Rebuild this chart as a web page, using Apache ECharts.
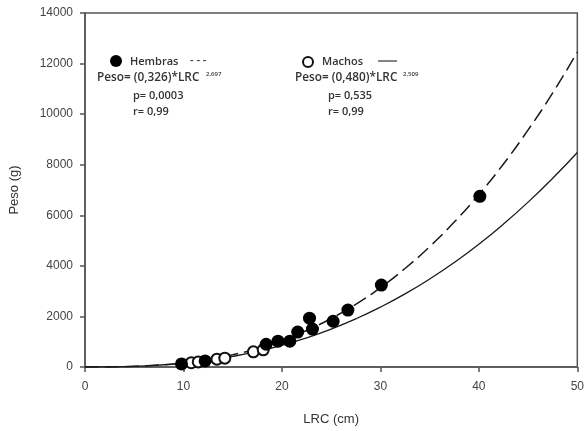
<!DOCTYPE html>
<html><head><meta charset="utf-8">
<script src="https://cdn.jsdelivr.net/npm/echarts@6/dist/echarts.min.js"></script>
<style>html,body{margin:0;padding:0;background:#fff}#c{width:587px;height:431px}</style>
</head><body><div id="c"></div>
<script>
// Observed data
var hembrasX = [9.8, 12.2, 18.4, 19.6, 20.8, 21.6, 22.8, 23.1, 25.2, 26.7, 30.1, 40.1];
var hembrasY = [120, 240, 900, 1020, 1020, 1380, 1930, 1500, 1810, 2250, 3240, 6750];
var machosX = [10.8, 11.5, 13.4, 14.2, 17.1, 18.1];
var machosY = [170, 200, 310, 350, 600, 680];
// Fitted curves
var curveX = [0, 2.5, 5, 7.5, 10, 12.5, 15, 17.5, 20, 22.5, 25, 27.5, 30, 32.5, 35, 37.5, 40, 42.5, 45, 47.5, 50];
var hembrasFit = [0, 4, 25, 75, 162, 296, 484, 733, 1051, 1445, 1919, 2481, 3140, 3897, 4759, 5731, 6822, 8031, 9376, 10840, 12455];
var machosFit = [0, 5, 27, 74, 152, 265, 418, 615, 859, 1153, 1500, 1904, 2366, 2890, 3479, 4134, 4857, 5652, 6520, 7464, 8485];
var xTicks = [0, 10, 20, 30, 40, 50];
var yTicks = [0, 2000, 4000, 6000, 8000, 10000, 12000, 14000];

function zip(a, b) { return a.map(function (v, i) { return [v, b[i]]; }); }

var chart = echarts.init(document.getElementById('c'));
var axisCol = '#555';
var lblFont = 'Liberation Sans, Arial, sans-serif';
var legFont = 'Open Sans, sans-serif';
var txtCol = '#333';
function t(x, y, s, size) {
  return { type: 'text', x: x, y: y, style: { text: s, font: '600 ' + (size || 11) + 'px ' + legFont, fill: txtCol, verticalAlign: 'middle' } };
}
chart.setOption({
  animation: false,
  grid: { left: 85, right: 9, top: 13, bottom: 63, show: true, borderColor: axisCol, borderWidth: 1.5 },
  xAxis: {
    type: 'value', min: xTicks[0], max: xTicks[xTicks.length - 1], interval: 10,
    name: 'LRC (cm)', nameLocation: 'middle', nameGap: 46,
    nameTextStyle: { fontFamily: lblFont, fontSize: 13, color: '#333' },
    axisLine: { show: true, lineStyle: { color: axisCol, width: 1.5 } },
    axisTick: { show: true, length: 5, lineStyle: { color: axisCol, width: 1.5 } },
    axisLabel: { fontFamily: lblFont, fontSize: 12, color: '#444', margin: 14 },
    splitLine: { show: false }
  },
  yAxis: {
    type: 'value', min: yTicks[0], max: yTicks[yTicks.length - 1], interval: 2000,
    name: 'Peso (g)', nameLocation: 'middle', nameGap: 64,
    nameTextStyle: { fontFamily: lblFont, fontSize: 13, color: '#333' },
    axisLine: { show: true, lineStyle: { color: axisCol, width: 1.5 } },
    axisTick: { show: true, length: 5, lineStyle: { color: axisCol, width: 1.5 } },
    axisLabel: { fontFamily: lblFont, fontSize: 12, color: '#444', margin: 12, formatter: function (v) { return String(v); } },
    splitLine: { show: false }
  },
  series: [
    { type: 'line', data: zip(curveX, machosFit), smooth: true, showSymbol: false,
      lineStyle: { color: '#1a1a1a', width: 1.3 }, z: 2 },
    { type: 'line', data: zip(curveX, hembrasFit), smooth: true, showSymbol: false,
      lineStyle: { color: '#1a1a1a', width: 1.5, type: [14, 6] }, z: 2 },
    { type: 'scatter', data: zip(machosX, machosY), symbol: 'circle', symbolSize: 11,
      itemStyle: { color: '#fff', borderColor: '#111', borderWidth: 2, opacity: 1 }, z: 3 },
    { type: 'scatter', data: zip(hembrasX, hembrasY), symbol: 'circle', symbolSize: 13,
      itemStyle: { color: '#000', opacity: 1 }, z: 4 }
  ],
  graphic: [
    { type: 'circle', shape: { cx: 116, cy: 61, r: 6 }, style: { fill: '#000' } },
    t(130, 62, 'Hembras'),
    t(190, 61, '- - -'),
    t(97, 78, 'Peso= (0,326)*LRC', 11.8),
    t(206, 74, '2,697', 6),
    t(133, 96, 'p= 0,0003'),
    t(133, 112, 'r= 0,99'),

    { type: 'circle', shape: { cx: 308, cy: 62, r: 5 }, style: { fill: '#fff', stroke: '#111', lineWidth: 2 } },
    t(322, 62, 'Machos'),
    { type: 'line', shape: { x1: 378, y1: 61, x2: 397, y2: 61 }, style: { stroke: '#333', lineWidth: 1.2 } },
    t(295, 78, 'Peso= (0,480)*LRC', 11.8),
    t(403, 74, '2,509', 6),
    t(328, 96, 'p= 0,535'),
    t(328, 112, 'r= 0,99')
  ]
});
</script></body></html>
